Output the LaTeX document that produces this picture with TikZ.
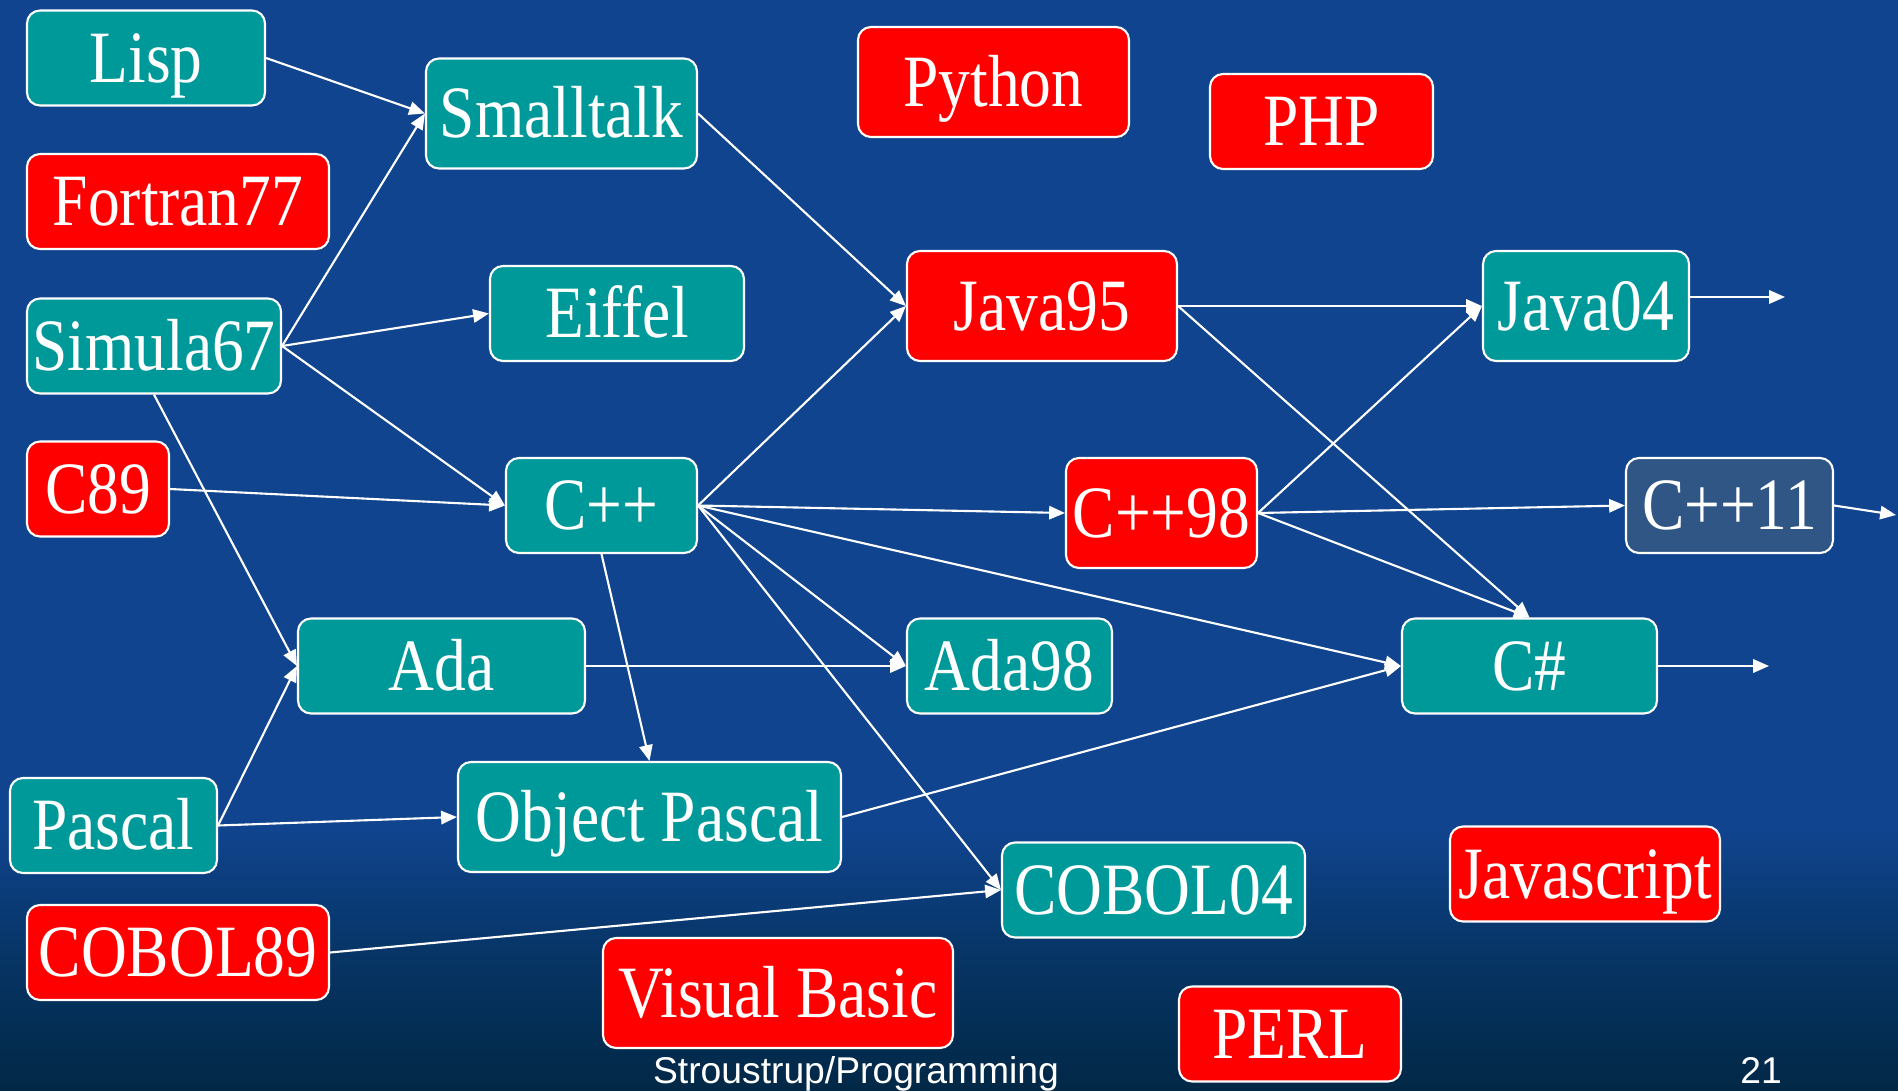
\documentclass[tikz,border=0pt]{standalone}
\usepackage{fontspec}
\setmainfont[FakeStretch=0.86]{Liberation Serif}
\newfontfamily\footfont{Liberation Sans}
\usepackage{xcolor}
\usepackage{tikz}
\usetikzlibrary{arrows.meta,positioning,calc}

\definecolor{langteal}{RGB}{0,153,153}
\definecolor{langred}{RGB}{255,0,0}
\definecolor{langslate}{RGB}{47,86,132}
\definecolor{bgtop}{RGB}{16,68,142}
\definecolor{bgmid}{RGB}{6,52,100}
\definecolor{bgbottom}{RGB}{2,40,70}
\pgfdeclareverticalshading{slidebg}{100bp}{color(0bp)=(bgbottom); color(25bp)=(bgbottom); color(31bp)=(bgmid); color(37bp)=(bgtop); color(75bp)=(bgtop); color(100bp)=(bgtop)}

\begin{document}
\begin{tikzpicture}[x=0.1mm, y=-0.1mm,
    lang/.style={rectangle, rounded corners=1.3mm, draw=white, line width=0.6pt, text=white, font=\fontsize{21}{25}\selectfont, minimum height=9.5mm, inner sep=0pt, text height=13.8pt, text depth=0pt},
    tall/.style={minimum height=11mm},
    arrow/.style={-{Triangle[length=4.5pt,width=3.8pt]}, white, line width=0.6pt},
    foot/.style={text=white, font=\footfont\fontsize{10.6}{12}\selectfont, anchor=base}
]
    % Background
    \shade[shading=slidebg] (0,0) rectangle (1898,1090);
    \useasboundingbox (0,0) rectangle (1898,1090);

    % Left column
    \node[lang, fill=langteal, minimum width=23.8mm] (lisp) at (146,58) {Lisp};
    \node[lang, fill=langred, minimum width=30.2mm] (fortran) at (178,201.5) {Fortran77};
    \node[lang, fill=langteal, minimum width=25.4mm] (simula) at (154,346) {Simula67};
    \node[lang, fill=langred, minimum width=14.2mm] (c89) at (98,489) {C89};
    \node[lang, fill=langteal, minimum width=20.7mm] (pascal) at (113.5,825.5) {Pascal};
    \node[lang, fill=langred, minimum width=30.2mm] (cobol89) at (178,952.5) {COBOL89};

    % Second column
    \node[lang, tall, fill=langteal, minimum width=27.1mm] (smalltalk) at (561.5,113.5) {Smalltalk};
    \node[lang, fill=langteal, minimum width=25.4mm] (eiffel) at (617,313.5) {Eiffel};
    \node[lang, fill=langteal, minimum width=19.1mm] (cpp) at (601.5,505.5) {C++};
    \node[lang, fill=langteal, minimum width=28.7mm] (ada) at (441.5,666) {Ada};
    \node[lang, tall, fill=langteal, minimum width=38.3mm] (objpascal) at (649.5,817) {Object Pascal};
    \node[lang, tall, fill=langred, minimum width=35mm] (vbasic) at (778,993) {Visual Basic};

    % Middle column
    \node[lang, tall, fill=langred, minimum width=27.1mm] (python) at (993.5,82) {Python};
    \node[lang, tall, fill=langred, minimum width=27mm] (java95) at (1042,306) {Java95};
    \node[lang, tall, fill=langred, minimum width=19.1mm] (cpp98) at (1161.5,513) {C++98};
    \node[lang, fill=langteal, minimum width=20.5mm] (ada98) at (1009.5,666) {Ada98};
    \node[lang, fill=langteal, minimum width=30.3mm] (cobol04) at (1153.5,890) {COBOL04};
    \node[lang, fill=langred, minimum width=22.2mm] (perl) at (1290,1034) {PERL};

    % Right column
    \node[lang, fill=langred, minimum width=22.3mm] (php) at (1321.5,121.5) {PHP};
    \node[lang, tall, fill=langteal, minimum width=20.6mm] (java04) at (1586,306) {Java04};
    \node[lang, fill=langslate, minimum width=20.7mm] (cpp11) at (1729.5,505.5) {C++11};
    \node[lang, fill=langteal, minimum width=25.5mm] (csharp) at (1529.5,666) {C\#};
    \node[lang, fill=langred, minimum width=27mm] (javascript) at (1585,874) {Javascript};

    % Loose ends
    \coordinate (j04end) at (1785,297);
    \coordinate (cpp11end) at (1896,515);
    \coordinate (csend) at (1769,666);

    % Influences
    \draw[arrow] (lisp.east) -- (smalltalk.west);
    \draw[arrow] (simula.east) -- (smalltalk.west);
    \draw[arrow] (simula.east) -- (eiffel.west);
    \draw[arrow] (simula.east) -- (cpp.west);
    \draw[arrow] (simula.south) -- (ada.west);
    \draw[arrow] (c89.east) -- (cpp.west);
    \draw[arrow] (pascal.east) -- (ada.west);
    \draw[arrow] (pascal.east) -- (objpascal.west);
    \draw[arrow] (cobol89.east) -- (cobol04.west);
    \draw[arrow] (smalltalk.east) -- (java95.west);
    \draw[arrow] (cpp.east) -- (java95.west);
    \draw[arrow] (cpp.east) -- (cpp98.west);
    \draw[arrow] (cpp.east) -- (ada98.west);
    \draw[arrow] (cpp.east) -- (csharp.west);
    \draw[arrow] (cpp.east) -- (cobol04.west);
    \draw[arrow] (cpp.south) -- (objpascal.north);
    \draw[arrow] (ada.east) -- (ada98.west);
    \draw[arrow] (objpascal.east) -- (csharp.west);
    \draw[arrow] (java95.east) -- (java04.west);
    \draw[arrow] (java95.east) -- (csharp.north);
    \draw[arrow] (cpp98.east) -- (java04.west);
    \draw[arrow] (cpp98.east) -- (cpp11.west);
    \draw[arrow] (cpp98.east) -- (csharp.north);
    \draw[arrow] (java04.east |- j04end) -- (j04end);
    \draw[arrow] (cpp11.east) -- (cpp11end);
    \draw[arrow] (csharp.east) -- (csend);

    % Footer
    \node[foot] (footer) at (856,1083) {Stroustrup/Programming};
    \node[foot] (pagenum) at (1761,1083) {21};
\end{tikzpicture}
\end{document}
